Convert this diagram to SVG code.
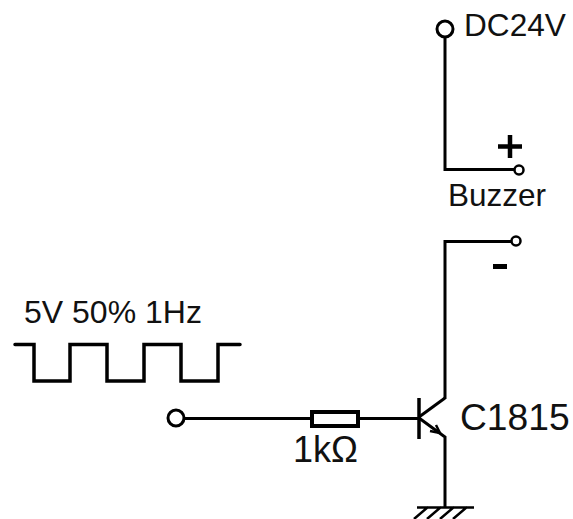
<svg xmlns="http://www.w3.org/2000/svg" width="573" height="519" viewBox="0 0 573 519">
<style>
text{font-family:"Liberation Sans",Arial,sans-serif;fill:#111}
.w{fill:none;stroke:#000;stroke-width:3;stroke-linejoin:miter}
.t{fill:#fff;stroke:#000}
</style>
<rect width="573" height="519" fill="#fff"/>
<g id="connectors">
<path class="w" d="M445 37V169.500H515"/>
<path class="w" d="M445 399V241.500H512"/>
<path class="w" d="M184 418.500H312M358 418.500H419"/>
<path class="w" d="M419 417L445 398"/>
<path class="w" d="M419 418L445 437V507"/>
</g>
<g id="dc24v"><circle class="t" cx="445" cy="29" r="8" stroke-width="3"/><text x="464" y="36" font-size="31.600">DC24V</text></g>
<g id="buzzer">
<circle class="t" cx="519" cy="170" r="4.500" stroke-width="2.500"/>
<circle class="t" cx="516" cy="241" r="4.500" stroke-width="2.500"/>
<path d="M498 146.500H522M510 135V158" fill="none" stroke="#000" stroke-width="4.500"/>
<path d="M493 266.500H507" fill="none" stroke="#000" stroke-width="5"/>
<text x="448" y="206" font-size="31.500">Buzzer</text>
</g>
<g id="input"><circle class="t" cx="176" cy="418" r="8" stroke-width="3"/></g>
<g id="waveform">
<path d="M15 344.500H34V381H70V344.500H107V381H144V344.500H181V381H218V344.500H240" fill="none" stroke="#000" stroke-width="3.500" stroke-linecap="round"/>
<text x="24" y="323" font-size="32">5V 50% 1Hz</text>
</g>
<g id="resistor"><rect x="312" y="412" width="46" height="14" fill="#fff" stroke="#000" stroke-width="4"/><text x="293" y="462" font-size="36">1kΩ</text></g>
<g id="transistor">
<path d="M419 398V439" fill="none" stroke="#000" stroke-width="3.500"/>
<path d="M436 425L440 433L430 431" fill="none" stroke="#000" stroke-width="2.500"/>
<text x="460" y="430" font-size="37.200">C1815</text>
</g>
<g id="ground"><path d="M417 507.500H474M428 507L414 519M441 507L427 519M454 507L440 519M467 507L453 519" fill="none" stroke="#000" stroke-width="2.500"/></g>
</svg>
